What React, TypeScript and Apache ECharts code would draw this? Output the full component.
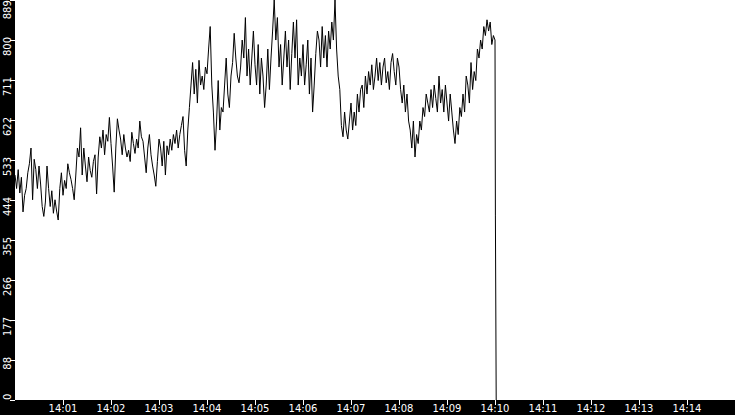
import React, { useEffect, useRef } from "react";
import * as echarts from "echarts";

// Sampling: one reading every 2 seconds, starting at 14:00:00
const SAMPLE_STEP_S = 2;

const VALUES: number[] = [
  500, 470, 512, 460, 495, 418, 455, 470, 505, 525,
  560, 445, 535, 512, 470, 520, 480, 430, 408, 440,
  520, 470, 430, 465, 415, 445, 420, 400, 470, 505,
  455, 488, 470, 525, 505, 490, 470, 445, 500, 560,
  540, 605, 500, 560, 520, 485, 540, 510, 495, 530,
  545, 458, 540, 585, 560, 600, 545, 590, 575, 628,
  570, 520, 462, 560, 625, 600, 580, 545, 590, 560,
  540, 555, 530, 595, 570, 548, 580, 560, 620, 585,
  575, 540, 505, 560, 590, 545, 520, 500, 475, 530,
  580, 560, 520, 575, 500, 565, 545, 580, 555, 590,
  570, 600, 560, 590, 610, 630, 555, 520, 600, 650,
  700, 750, 680, 735, 660, 755, 700, 720, 690, 740,
  725, 780, 830, 700, 640, 555, 620, 710, 600, 650,
  640, 700, 760, 680, 650, 720, 750, 815, 760, 720,
  705, 740, 800, 760, 850, 720, 780, 700, 760, 820,
  745, 700, 790, 680, 760, 720, 650, 700, 780, 690,
  760, 820, 889, 800, 850, 740, 790, 700, 760, 820,
  740, 800, 690, 770, 840, 760, 845, 700, 760, 720,
  790, 700, 745, 800, 680, 760, 640, 700, 770, 820,
  800, 740, 830, 760, 810, 740, 820, 780, 840, 800,
  889, 780, 720, 690, 610, 585, 640, 600, 580, 620,
  660, 600, 640, 610, 680, 640, 690, 700, 650, 720,
  680, 730, 700, 745, 690, 720, 760, 710, 750, 700,
  740, 760, 705, 730, 690, 750, 770, 730, 700, 760,
  740, 690, 660, 700, 640, 680, 620, 600, 560, 620,
  540, 590, 570, 620, 600, 650, 630, 680, 660, 640,
  690, 650, 700, 670, 640, 720, 660, 690, 640, 700,
  660, 620, 680, 640, 600, 570, 620, 590, 650, 630,
  680, 640, 720, 700, 660, 750, 690, 730, 710, 780,
  760, 800, 780, 830, 810, 845, 820, 840, 790, 810,
];

// Final readings around 14:10 where the signal drops to zero
const DROP_TIMES_S = [600, 600.5, 601.5];
const DROP_VALUES = [800, 411, 0];

// X axis: seconds after 14:00:00
const X_MIN_S = 0;
const X_MAX_S = 900;
const X_TICK_SECONDS = [60, 120, 180, 240, 300, 360, 420, 480, 540, 600, 660, 720, 780, 840];
const X_TICK_LABELS = [
  "14:01", "14:02", "14:03", "14:04", "14:05", "14:06", "14:07",
  "14:08", "14:09", "14:10", "14:11", "14:12", "14:13", "14:14",
];

// Y axis
const Y_MIN = 0;
const Y_MAX = 889;
const Y_STEP = 88.9;

const FONT = "DejaVu Sans";

export default function App() {
  const ref = useRef<HTMLDivElement>(null);

  useEffect(() => {
    if (!ref.current) return;
    const chart = echarts.init(ref.current, null, { renderer: "svg" });
    const data = VALUES.map((v, i) => [X_MIN_S + i * SAMPLE_STEP_S, v]).concat(
      DROP_VALUES.map((v, i) => [DROP_TIMES_S[i], v])
    );
    const txt = { color: "#fff", fontSize: 10, fontFamily: FONT };
    chart.setOption({
      animation: false,
      backgroundColor: "#000",
      grid: {
        left: 15,
        right: 0,
        top: 0,
        bottom: 15,
        containLabel: false,
        outerBoundsMode: "none",
        show: true,
        backgroundColor: "#fff",
        borderWidth: 0,
      },
      xAxis: {
        type: "value",
        min: X_MIN_S,
        max: X_MAX_S,
        interval: 60,
        axisLine: { show: false },
        splitLine: { show: false },
        axisTick: {
          show: true,
          length: 5,
          customValues: X_TICK_SECONDS,
          lineStyle: { color: "#fff", width: 1 },
        },
        axisLabel: {
          show: true,
          customValues: X_TICK_SECONDS,
          margin: 3,
          ...txt,
          formatter: (v: number) => {
            const i = X_TICK_SECONDS.indexOf(Math.round(v));
            return i >= 0 ? X_TICK_LABELS[i] : "";
          },
        },
      },
      yAxis: {
        type: "value",
        min: Y_MIN,
        max: Y_MAX,
        interval: Y_STEP,
        axisLine: { show: false },
        splitLine: { show: false },
        axisTick: {
          show: true,
          length: 5,
          lineStyle: { color: "#fff", width: 1 },
        },
        axisLabel: {
          show: true,
          rotate: 90,
          margin: 3,
          align: "center",
          verticalAlign: "bottom",
          showMinLabel: true,
          showMaxLabel: true,
          ...txt,
          formatter: (v: number) => {
            const n = Math.floor(v + 1e-6);
            const s = String(n);
            if (n === Y_MIN) return "{z|" + s + "}";
            if (n === Y_MAX) return "{t|" + s + "}";
            return "{n" + s.length + "|" + s + "}";
          },
          rich: {
            z: { ...txt, padding: [0, 0, 0, 6.4] },
            t: { ...txt, padding: [0, 19.6, 0, 0] },
            n1: { ...txt, padding: [0, 0.4, 0, 0] },
            n2: { ...txt, padding: [0, 6.7, 0, 0] },
            n3: { ...txt, padding: [0, 13.1, 0, 0] },
          },
        },
      },
      series: [
        {
          type: "line",
          data,
          showSymbol: false,
          symbol: "none",
          lineStyle: { color: "#000", width: 1 },
          clip: true,
        },
      ],
    });
    return () => chart.dispose();
  }, []);

  return (
    <div
      ref={ref}
      style={{ position: "fixed", left: 0, top: 0, width: 735, height: 415 }}
    />
  );
}
